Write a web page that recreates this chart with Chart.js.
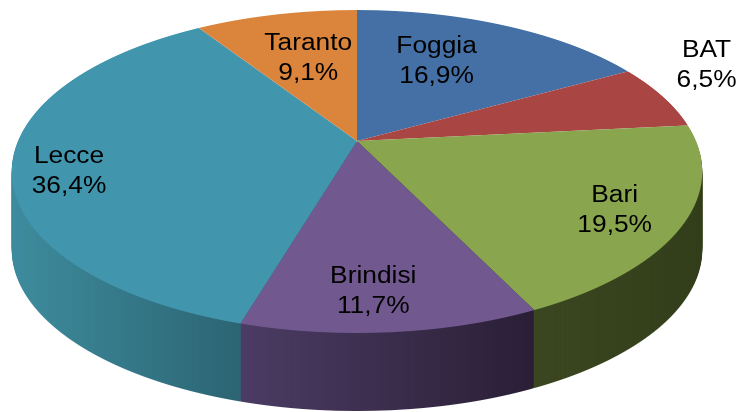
<!DOCTYPE html>
<html><head><meta charset="utf-8">
<script src="https://cdn.jsdelivr.net/npm/chart.js@4.4.0/dist/chart.umd.min.js"></script>
<style>html,body{margin:0;padding:0;background:#fff;}canvas{display:block;}</style>
</head><body>
<canvas id="c" width="741" height="412"></canvas>
<script>
const categories = ['Foggia', 'BAT', 'Bari', 'Brindisi', 'Lecce', 'Taranto'];
const values = [16.9, 6.5, 19.5, 11.7, 36.4, 9.1];
const valueLabels = ['16,9%', '6,5%', '19,5%', '11,7%', '36,4%', '9,1%'];
const topColors = ['#4570a6', '#a94542', '#89a54e', '#71588f', '#4196ae', '#da843c'];
const sideLight = ['#3a5f8d', '#8a3936', '#3b4720', '#4c3c64', '#3e8c9e', '#b06b31'];
const sideDark = ['#2c4a70', '#6c2b29', '#333e1b', '#2a1f36', '#2c6573', '#8a5226'];
const labelRadius = [0.63, 1.26, 0.81, 0.81, 0.84, 0.62];
const labelAngleShift = [-6, -8, 0.7, 1.8, -4.1, 1.4];

const VIEW = { cx: 357, cy: 141, ax: 339, by: 155.7, k: 0.189, depth: 78 };

function gy(v) { return VIEW.cy + VIEW.by * v / (1 - VIEW.k * v); }
function dgy(v) { const w = 1 - VIEW.k * v; return VIEW.by / (w * w); }
function invgy(y) { const d = y - VIEW.cy; return d / (VIEW.by + VIEW.k * d); }
function project(u, v) { const w = 1 - VIEW.k * v; return [VIEW.cx + VIEW.ax * u / w, VIEW.cy + VIEW.by * v / w]; }

function paintRows(c, arcs, vMin, vMax, colorFn) {
  const a0 = arcs[0], R = a0.outerRadius, ax = a0.x, ay = a0.y;
  const yTop = Math.floor(gy(vMin)), yBot = Math.ceil(gy(vMax));
  for (let y = yTop; y < yBot; y++) {
    let vm = invgy(y + 0.5);
    vm = Math.max(-1, Math.min(1, vm));
    const w = 1 - VIEW.k * vm;
    const sx = VIEW.ax / (w * R), sy = dgy(vm) / R;
    const ty = gy(vm) - dgy(vm) * vm;
    c.save();
    c.beginPath(); c.rect(0, y, c.canvas.width, 1); c.clip();
    c.translate(VIEW.cx, ty); c.scale(sx, sy); c.translate(-ax, -ay);
    arcs.forEach((arc, i) => {
      const o = arc.options;
      arc.options = Object.assign({}, o, { backgroundColor: colorFn(i, c, sx, ax), borderWidth: 0 });
      arc.draw(c);
      arc.options = o;
    });
    c.restore();
  }
}

function sideRange(arc) {
  let mn = Infinity, mx = -Infinity;
  for (let s = 0; s <= 200; s++) {
    const a = arc.startAngle + (arc.endAngle - arc.startAngle) * s / 200;
    const u = Math.cos(a), v = Math.sin(a);
    if (v >= VIEW.k) { const p = project(u, v); mn = Math.min(mn, p[0]); mx = Math.max(mx, p[0]); }
  }
  if (!isFinite(mn) || mx - mn < 1) { mn = VIEW.cx - VIEW.ax; mx = VIEW.cx + VIEW.ax; }
  return [mn, mx];
}

const pie3d = {
  id: 'pie3d',
  beforeDatasetsDraw(chart) {
    const ctx = chart.ctx;
    const arcs = chart.getDatasetMeta(0).data;
    const off = document.createElement('canvas');
    off.width = chart.canvas.width; off.height = chart.canvas.height;
    const octx = off.getContext('2d');
    const ranges = arcs.map(sideRange);
    paintRows(octx, arcs, 0, 1, (i, c, sx, ax) => {
      const X0 = ax + (ranges[i][0] - VIEW.cx) / sx;
      const X1 = ax + (ranges[i][1] - VIEW.cx) / sx;
      const g = c.createLinearGradient(X0, 0, X1, 0);
      g.addColorStop(0, sideLight[i]);
      g.addColorStop(1, sideDark[i]);
      return g;
    });
    for (let d = VIEW.depth; d >= 1; d--) ctx.drawImage(off, 0, d);
    paintRows(ctx, arcs, -1, 1, (i) => topColors[i]);
    return false;
  },
  afterDraw(chart) {
    const ctx = chart.ctx;
    const arcs = chart.getDatasetMeta(0).data;
    ctx.save();
    ctx.fillStyle = '#000';
    ctx.textAlign = 'center';
    ctx.textBaseline = 'alphabetic';
    ctx.font = '23.5px "Liberation Sans", Arial, sans-serif';
    arcs.forEach((arc, i) => {
      const a = (arc.startAngle + arc.endAngle) / 2 + labelAngleShift[i] * Math.PI / 180;
      const r = labelRadius[i];
      const p = project(r * Math.cos(a), r * Math.sin(a));
      ctx.save();
      ctx.translate(p[0], p[1]);
      ctx.scale(1.12, 1);
      ctx.fillText(categories[i], 0, -7);
      ctx.fillText(valueLabels[i], 0, 23);
      ctx.restore();
    });
    ctx.restore();
  }
};

new Chart(document.getElementById('c'), {
  type: 'pie',
  data: { labels: categories, datasets: [{ data: values, backgroundColor: topColors, borderWidth: 0 }] },
  options: {
    responsive: false, animation: false, events: [],
    plugins: { legend: { display: false }, tooltip: { enabled: false } }
  },
  plugins: [pie3d]
});
</script>
</body></html>
